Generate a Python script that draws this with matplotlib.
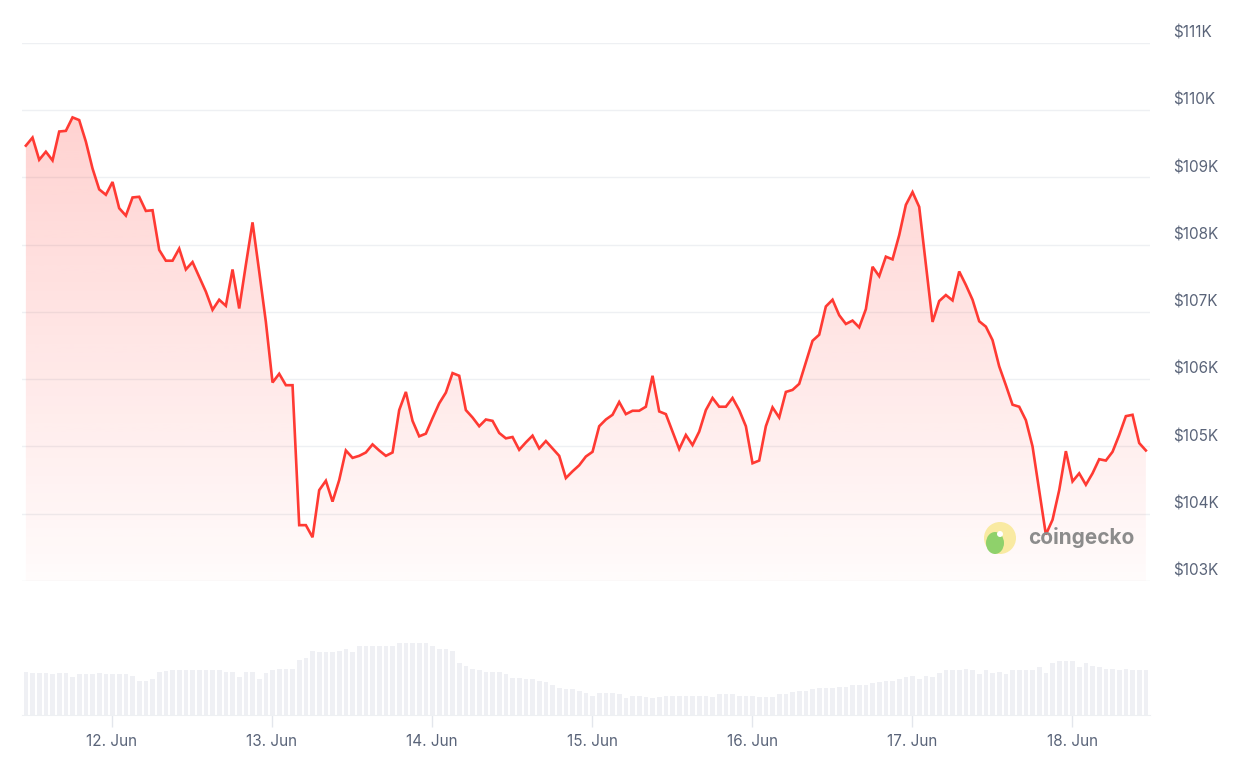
import numpy as np
import matplotlib.pyplot as plt
from matplotlib.patches import Circle, Ellipse
from matplotlib.transforms import IdentityTransform

# hourly BTC price (USD), starting 11 Jun ~11:05
price = [109470, 109590, 109260, 109380, 109250, 109680, 109690, 109890, 109850, 109530,
         109130, 108820, 108740, 108930, 108540, 108430, 108700, 108710, 108500, 108510,
         107920, 107760, 107760, 107940, 107630, 107740, 107520, 107300, 107030, 107180,
         107090, 107630, 107050, 107700, 108330, 107600, 106850, 105950, 106080, 105910,
         105910, 103830, 103830, 103650, 104350, 104490, 104180, 104500, 104940, 104830,
         104860, 104910, 105030, 104940, 104860, 104910, 105540, 105810, 105380, 105150,
         105190, 105420, 105640, 105800, 106090, 106050, 105540, 105430, 105300, 105400,
         105380, 105200, 105120, 105140, 104950, 105060, 105160, 104970, 105080, 104970,
         104860, 104530, 104630, 104720, 104850, 104920, 105300, 105400, 105470, 105660,
         105480, 105530, 105530, 105590, 106050, 105520, 105480, 105220, 104960, 105170,
         105020, 105220, 105540, 105720, 105590, 105590, 105720, 105540, 105300, 104750,
         104790, 105300, 105580, 105430, 105810, 105840, 105930, 106250, 106570, 106660,
         107080, 107180, 106950, 106820, 106870, 106770, 107040, 107670, 107530, 107820,
         107780, 108140, 108590, 108780, 108560, 107710, 106850, 107160, 107250, 107170,
         107600, 107400, 107180, 106860, 106780, 106580, 106190, 105910, 105620, 105590,
         105390, 105000, 104350, 103690, 103910, 104350, 104930, 104480, 104600, 104430,
         104600, 104810, 104790, 104920, 105170, 105450, 105470, 105050, 104940]

# hourly volume (relative units)
volume = [130, 127, 127, 127, 123, 127, 127, 113, 122, 122, 122, 127, 122, 122, 122, 122,
          117, 103, 103, 108, 130, 132, 135, 135, 135, 135, 135, 135, 135, 135, 130, 130,
          113, 130, 130, 108, 125, 135, 139, 139, 139, 166, 171, 193, 189, 189, 189, 193,
          198, 189, 207, 207, 207, 207, 207, 207, 216, 216, 216, 216, 216, 207, 198, 198,
          193, 157, 148, 139, 135, 130, 130, 130, 122, 112, 112, 108, 108, 103, 99, 90,
          80, 77, 77, 72, 67, 58, 67, 67, 67, 63, 50, 58,
          58, 55, 50, 55, 58, 58, 58, 58, 58, 58, 58, 55, 63, 63, 63, 58, 58, 58, 55, 55,
          55, 63, 63, 68, 72, 72, 77, 81, 81, 81, 85, 85, 90, 90, 90, 95, 100, 103, 103,
          108, 113, 117, 108, 117, 113, 127, 135, 135, 135, 139, 135, 122, 135, 127, 130,
          122, 135, 135, 135, 135, 144, 127, 157, 162, 162, 162, 144, 157, 148, 144, 139,
          139, 135, 139, 135, 135, 135]

day_labels = ['12. Jun', '13. Jun', '14. Jun', '15. Jun', '16. Jun', '17. Jun', '18. Jun']
price_ticks = [103000, 104000, 105000, 106000, 107000, 108000, 109000, 110000, 111000]

# hours relative to 12 Jun 00:00
hours = np.arange(len(price)) - 12.92
x_min, x_max = -13.5, 155.7

line_color = '#ff3a33'
text_color = '#5a6479'
grid_color = '#eef0f3'
fonts = ['Inter', 'DejaVu Sans']

fig = plt.figure(figsize=(12.57, 7.70), dpi=100)
ax = fig.add_axes([22 / 1257, 189 / 770, 1128 / 1257, 538.3 / 770])
ax_vol = fig.add_axes([22 / 1257, 55 / 770, 1128 / 1257, 75 / 770])

# price area
ax.set_xlim(x_min, x_max)
ax.set_ylim(103000, 111000)
for v in price_ticks:
    ax.axhline(v, color=grid_color, lw=1, zorder=0)
    ax.annotate('$' + str(v // 1000) + 'K', xy=(1, v), xycoords=ax.get_yaxis_transform(),
                xytext=(23, 9.7), textcoords='offset pixels', va='center', ha='left',
                fontsize=11, color=text_color, family=fonts)

fill = ax.fill_between(hours, price, 103000, facecolor='none', edgecolor='none')
grad = np.zeros((256, 1, 4))
grad[:, 0, 0] = 1.0
grad[:, 0, 1] = 58 / 255
grad[:, 0, 2] = 51 / 255
grad[:, 0, 3] = np.linspace(0.02, 0.26, 256)
im = ax.imshow(grad, aspect='auto', origin='lower', extent=[x_min, x_max, 103000, 111000], zorder=1)
im.set_clip_path(fill.get_paths()[0], ax.transData)
ax.plot(hours, price, color=line_color, lw=1.9, solid_joinstyle='miter', zorder=3)
ax.set_ylim(103000, 111000)
ax.set_xlim(x_min, x_max)
ax.axis('off')

# coingecko watermark (pixel coordinates, origin bottom left)
px = IdentityTransform()
fig.patches.append(Circle((1000, 232), 16, transform=px, facecolor='#f9eaa2', edgecolor='none', zorder=5))
fig.patches.append(Ellipse((995, 227), 18, 22, transform=px, facecolor='#8fd16b', edgecolor='none', zorder=6))
fig.patches.append(Circle((1000, 236), 3, transform=px, facecolor='white', edgecolor='none', zorder=7))
fig.text(1028 / 1257, (770 - 538) / 770, 'coingecko', fontsize=15, fontweight='bold', color='#8c8c8c',
         va='center', ha='left', family=fonts, zorder=8)

# volume bars
ax_vol.bar(hours, volume, width=0.7, color='#eff0f4', edgecolor='none')
ax_vol.set_xlim(x_min, x_max)
ax_vol.set_ylim(0, 225)
ax_vol.set_xticks(np.arange(len(day_labels)) * 24)
ax_vol.set_xticklabels(day_labels, fontsize=11, color=text_color, family=fonts)
ax_vol.tick_params(axis='x', length=8.5, width=1, color='#e3e6ec', pad=5)
ax_vol.set_yticks([])
for side in ['top', 'left', 'right']:
    ax_vol.spines[side].set_visible(False)
ax_vol.spines['bottom'].set_color('#eef0f3')

fig.savefig('out.png', dpi=100)
